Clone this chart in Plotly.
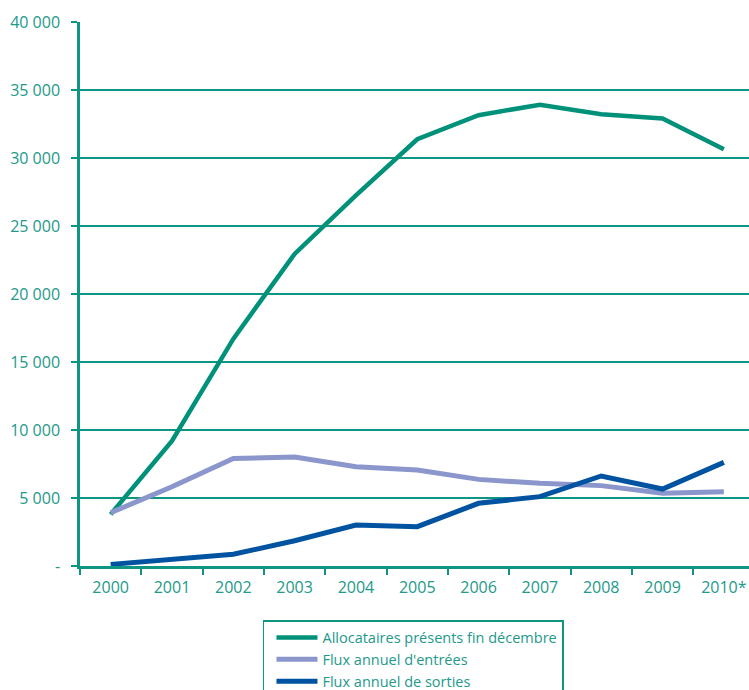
import plotly.graph_objects as go

years = ["2000", "2001", "2002", "2003", "2004", "2005", "2006", "2007", "2008", "2009", "2010*"]
allocataires = [3800, 9200, 16700, 22950, 27250, 31380, 33150, 33920, 33220, 32900, 30640]
entrees = [3920, 5830, 7900, 8020, 7300, 7060, 6370, 6080, 5910, 5350, 5460]
sorties = [120, 450, 860, 1860, 3010, 2890, 4610, 5100, 6620, 5660, 7620]

y_tickvals = [0, 5000, 10000, 15000, 20000, 25000, 30000, 35000, 40000]
y_ticktext = ["-", "5 000", "10 000", "15 000", "20 000", "25 000", "30 000", "35 000", "40 000"]

TEAL = "#0E9683"
TEXT = "#23998A"
GREEN = "#00917A"
PURPLE = "#8A96CC"
BLUE = "#0053A1"

fig = go.Figure()
fig.add_trace(go.Scatter(x=years, y=allocataires, mode="lines", name="Allocataires présents fin décembre",
                         line=dict(color=GREEN, width=4.5)))
fig.add_trace(go.Scatter(x=years, y=entrees, mode="lines", name="Flux annuel d'entrées",
                         line=dict(color=PURPLE, width=5)))
fig.add_trace(go.Scatter(x=years, y=sorties, mode="lines", name="Flux annuel de sorties",
                         line=dict(color=BLUE, width=5)))

fig.update_layout(
    width=749, height=690,
    margin=dict(l=80, r=0, t=22, b=124, autoexpand=False),
    paper_bgcolor="white", plot_bgcolor="white",
    font=dict(family="Open Sans", size=15, color=TEXT),
    showlegend=True,
    legend=dict(x=0.2735, y=-0.0993, xanchor="left", yanchor="top",
                bordercolor=TEAL, borderwidth=1.5, bgcolor="white",
                font=dict(size=14.5, color=TEXT), tracegroupgap=0,
                itemwidth=41, indentation=7),
)
fig.update_xaxes(
    type="category", range=[-0.5, 10.41], automargin=False,
    showline=True, linecolor=TEAL, linewidth=2.5,
    ticks="outside", tickson="boundaries", ticklen=6, tickcolor=TEAL, tickwidth=1.5,
    showgrid=False, tickfont=dict(size=16, color=TEXT),
    ticklabelstandoff=5,
)
fig.update_yaxes(
    range=[0, 40000], tickvals=y_tickvals, ticktext=y_ticktext, automargin=False,
    showline=True, linecolor=TEAL, linewidth=2.5,
    ticks="outside", ticklen=6, tickcolor=TEAL, tickwidth=1.5,
    showgrid=True, gridcolor=TEAL, gridwidth=1.5,
    zeroline=False, tickfont=dict(size=16, color=TEXT),
    ticklabelstandoff=8,
)

fig.write_html("out.html")
